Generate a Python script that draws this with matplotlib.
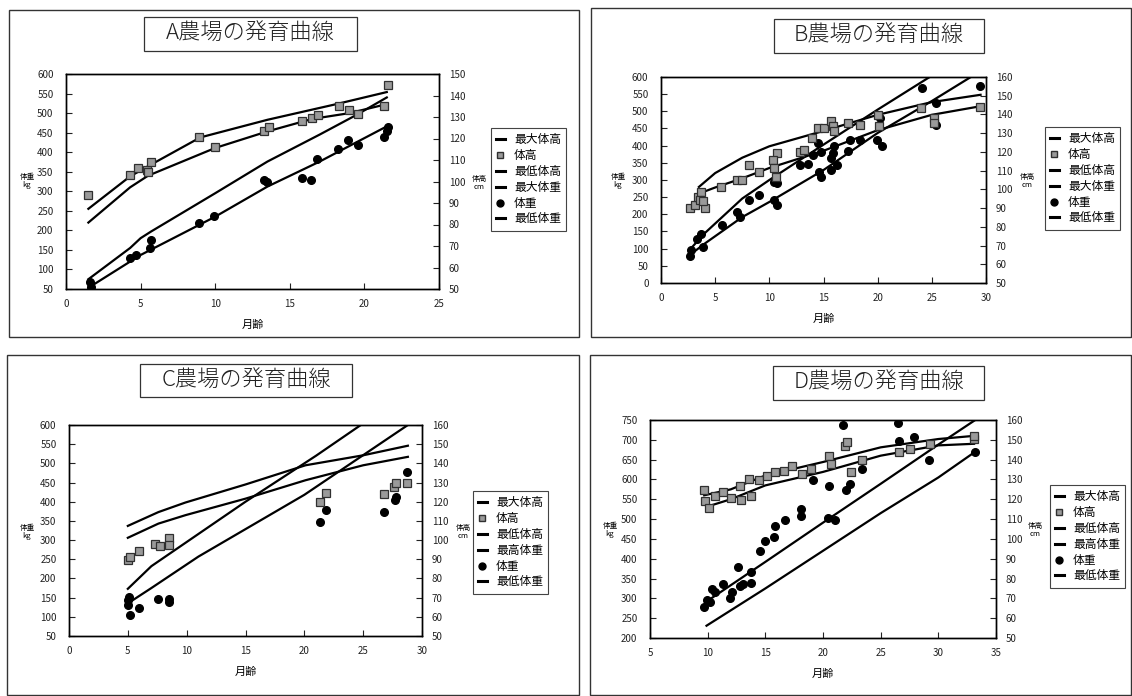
import matplotlib
matplotlib.use('Agg')
import matplotlib.pyplot as plt
from matplotlib.patches import Rectangle
from matplotlib.lines import Line2D

plt.rcParams['font.family'] = ['Noto Sans CJK JP', 'DejaVu Sans']

# ---- A農場 ----
A_wt_x = [1.6, 1.7, 4.3, 4.7, 5.6, 5.7, 8.9, 9.9, 13.3, 13.5, 15.8, 16.4, 16.8, 18.2, 18.9, 19.6, 21.3, 21.5, 21.6]
A_wt = [69, 56, 130, 137, 154, 176, 218, 238, 330, 325, 334, 328, 382, 409, 430, 419, 438, 453, 465]
A_ht_x = [1.5, 4.3, 4.8, 5.4, 5.5, 5.7, 8.9, 10.0, 13.3, 13.6, 15.8, 16.5, 16.9, 18.3, 19.0, 19.6, 21.3, 21.6]
A_ht = [93.6, 103.1, 106.4, 105.5, 104.2, 109.1, 120.9, 116.0, 123.3, 125.5, 128.2, 129.6, 130.9, 134.9, 133.1, 131.3, 134.9, 144.9]
A_max_ht_x = [1.5, 4.3, 5.5, 9, 13.5, 18, 21.5]
A_max_ht = [87.3, 102.4, 107.1, 120.5, 128.7, 135.8, 141.6]
A_min_ht_x = [1.5, 4.3, 5.5, 10, 13.5, 16.5, 19, 21.5]
A_min_ht = [80.9, 97.3, 102.7, 115.6, 123.3, 129.1, 131.8, 136.0]
A_max_wt_x = [1.5, 4.3, 5.0, 5.7, 10, 13.5, 17, 19.5, 21.5]
A_max_wt = [75, 155, 180, 197, 295, 376, 445, 496, 540]
A_min_wt_x = [1.5, 5, 10, 13.5, 17, 21.5]
A_min_wt = [53, 137, 235, 312, 376, 466]

# ---- B農場 ----
B_wt_x = [2.65, 2.8, 3.3, 3.7, 3.9, 5.6, 7.0, 7.3, 8.1, 9.0, 10.4, 10.7, 10.4, 10.7, 12.8, 13.6, 14.0, 14.5,
          14.8, 14.6, 14.8, 15.7, 15.7, 15.9, 16.0, 16.2, 17.3, 17.4, 18.4, 19.9, 20.2, 20.4, 24.1, 25.4, 25.4, 29.4]
B_wt = [80, 95, 129, 144, 105, 170, 207, 193, 241, 256, 295, 290, 241, 227, 344, 346, 373, 407,
        383, 324, 310, 329, 364, 378, 398, 344, 385, 417, 417, 417, 480, 398, 569, 525, 461, 575]
B_ht_x = [2.65, 3.1, 3.4, 3.7, 3.6, 4.05, 3.9, 5.5, 7.0, 7.5, 8.1, 9.0, 10.6, 10.7, 10.3, 10.4,
          12.8, 13.2, 13.9, 14.5, 15.0, 15.7, 15.9, 16.0, 17.3, 18.4, 20.0, 20.1, 24.0, 25.2, 25.2, 29.4]
B_ht = [90.2, 91.6, 96.0, 98.8, 94.2, 90.2, 93.6, 101.3, 105.0, 105.0, 113.1, 109.4, 106.8, 119.3, 115.8, 111.2,
        119.8, 121.1, 127.4, 132.7, 132.7, 136.4, 133.6, 130.9, 135.4, 134.5, 139.8, 133.6, 143.5, 138.2, 135.4, 144.2]
B_max_ht_x = [3.5, 5, 7.5, 10, 15, 20, 25, 29.5]
B_max_ht = [101.3, 108.7, 116.9, 123.0, 131.2, 139.8, 146.6, 150.5]
B_min_ht_x = [3.3, 5, 7.5, 10, 15, 20, 25, 29.5]
B_min_ht = [97.3, 101.0, 105.9, 111.4, 120.6, 131.6, 139.8, 144.4]
B_max_wt_x = [2.6, 4, 7.5, 10, 15, 20, 24.8]
B_max_wt = [95, 144, 246, 300, 403, 505, 600]
B_min_wt_x = [2.6, 4, 7.5, 10, 15, 20, 25, 28.6]
B_min_wt = [80, 114, 192, 236, 329, 437, 530, 600]

# ---- C農場 ----
C_wt_x = [5.0, 5.05, 5.1, 5.2, 5.97, 7.6, 8.5, 8.5, 21.3, 21.8, 26.8, 27.7, 27.8, 28.7]
C_wt = [143, 130, 152, 104, 123, 147, 139, 146, 347, 378, 372, 404, 413, 478]
C_ht_x = [5.05, 5.2, 5.97, 7.3, 7.7, 8.5, 8.5, 21.3, 21.8, 26.8, 27.6, 27.8, 28.7]
C_ht = [89.4, 91.2, 94.2, 98.2, 97.0, 101.2, 97.4, 120.0, 124.8, 124.2, 127.8, 129.8, 129.8]
C_max_ht_x = [5.0, 7.6, 9.9, 15, 20.1, 25, 28.8]
C_max_ht = [107.4, 114.6, 119.6, 129.0, 139.0, 144.2, 149.2]
C_min_ht_x = [5.0, 7.6, 9.9, 15, 20.1, 25, 28.8]
C_min_ht = [101.2, 108.6, 113.0, 121.6, 131.2, 139.0, 143.4]
C_max_wt_x = [5.0, 7, 15, 21, 24.8]
C_max_wt = [173, 232, 400, 520, 600]
C_min_wt_x = [5.0, 7, 11, 20, 28.8]
C_min_wt = [135, 175, 257, 418, 600]

# ---- D農場 ----
D_wt_x = [9.66, 9.9, 10.2, 10.4, 10.65, 11.3, 11.9, 12.1, 12.6, 12.8, 13.05, 13.8, 13.8, 14.5, 15.0, 15.75, 15.8,
          16.7, 18.1, 18.1, 19.1, 20.5, 20.45, 21.0, 21.7, 22.0, 22.3, 23.4, 26.5, 26.6, 27.9, 29.2, 33.2]
D_wt = [278, 295, 292, 323, 315, 336, 300, 317, 380, 331, 337, 367, 338, 419, 445, 455, 482,
        497, 507, 526, 598, 583, 504, 497, 738, 573, 588, 627, 742, 696, 708, 650, 669]
D_ht_x = [9.66, 9.8, 10.1, 10.65, 11.35, 12.06, 12.77, 12.9, 13.6, 13.76, 14.46, 15.17, 15.88, 16.58,
          17.29, 18.14, 18.98, 20.5, 20.7, 21.95, 22.1, 22.4, 23.4, 26.6, 27.5, 29.3, 33.1, 33.1]
D_ht = [124.5, 119.1, 115.8, 121.4, 123.6, 120.8, 126.5, 119.4, 130.4, 121.4, 129.5, 131.5, 133.7, 134.5,
        137.0, 132.9, 135.4, 142.0, 137.9, 147.1, 148.8, 133.7, 139.6, 143.8, 145.4, 147.9, 150.4, 152.1]
D_max_ht_x = [9.7, 12, 15, 20, 25, 30, 33.1]
D_max_ht = [122, 125, 132, 138.8, 146.2, 150.4, 152]
D_min_ht_x = [9.9, 12, 15, 20, 25, 30, 33.1]
D_min_ht = [116.2, 120, 127, 133.8, 142, 147.2, 148]
D_max_wt_x = [9.8, 15, 20, 25, 30, 33.2]
D_max_wt = [290, 392, 491, 589, 688, 750]
D_min_wt_x = [9.9, 15, 20, 25, 30, 33.2]
D_min_wt = [231, 325, 420, 515, 605, 670]

labels_ab = ['最大体高', '体高', '最低体高', '最大体重', '体重', '最低体重']
labels_cd = ['最大体高', '体高', '最低体高', '最高体重', '体重', '最低体重']

W, H = 1132, 696
fig = plt.figure(figsize=(W / 100, H / 100), dpi=100)


def fx(x):
    return x / W


def fy(y):
    return 1 - y / H


def box(x0, y0, x1, y1, lw=1.0, color='#333333'):
    fig.add_artist(Rectangle((fx(x0), fy(y1)), fx(x1 - x0), (y1 - y0) / H,
                             transform=fig.transFigure, fill=False, lw=lw, edgecolor=color))


def panel(rect, xlim, xticks, ylim, yticks, y2lim, y2ticks, d, labels,
          title, title_box, leg_xy, ylab_xy, y2lab_xy):
    x0, y0, x1, y1 = rect
    ax = fig.add_axes([fx(x0), fy(y1), fx(x1 - x0), (y1 - y0) / H])
    ax2 = ax.twinx()
    lk = dict(color='black', lw=1.6, zorder=2)
    ax2.plot(d['max_ht_x'], d['max_ht'], **lk)
    ax2.plot(d['min_ht_x'], d['min_ht'], **lk)
    ax.plot(d['max_wt_x'], d['max_wt'], **lk)
    ax.plot(d['min_wt_x'], d['min_wt'], **lk)
    ax2.plot(d['ht_x'], d['ht'], 's', ms=5.5, mfc='#9a9a9a', mec='#303030', mew=0.9, zorder=3)
    ax.plot(d['wt_x'], d['wt'], 'o', ms=5.5, color='black', zorder=3)
    ax.set_xlim(*xlim)
    ax.set_xticks(xticks)
    ax.set_ylim(*ylim)
    ax.set_yticks(yticks)
    ax2.set_ylim(*y2lim)
    ax2.set_yticks(y2ticks)
    for a in (ax, ax2):
        a.tick_params(direction='in', length=4, width=0.8, labelsize=7, colors='#222222')
        for s in a.spines.values():
            s.set_linewidth(1.0)
    ax.tick_params(axis='y', pad=9)
    ax.tick_params(axis='x', pad=7)
    ax2.tick_params(axis='y', pad=7)
    ax.set_xlabel('月齢', fontsize=8, labelpad=8)

    # title box
    tx0, ty0, tx1, ty1 = title_box
    box(tx0, ty0, tx1, ty1, lw=0.9)
    fig.text(fx((tx0 + tx1) / 2), fy((ty0 + ty1) / 2), title, fontsize=16,
             ha='center', va='center', color='#222222', fontweight='light')

    # axis labels
    fig.text(fx(ylab_xy[0]), fy(ylab_xy[1]), '体重\nkg', fontsize=5.5, ha='center', va='center', linespacing=1.1)
    fig.text(fx(y2lab_xy[0]), fy(y2lab_xy[1]), '体高\ncm', fontsize=5.5, ha='center', va='center', linespacing=1.1)

    handles = [Line2D([], [], color='black', lw=2.2),
               Line2D([], [], ls='none', marker='s', ms=5, mfc='#9a9a9a', mec='#303030'),
               Line2D([], [], color='black', lw=2.2),
               Line2D([], [], color='black', lw=2.2),
               Line2D([], [], ls='none', marker='o', ms=5, color='black'),
               Line2D([], [], color='black', lw=2.2)]
    leg = fig.legend(handles, labels, loc='upper left', bbox_to_anchor=(fx(leg_xy[0]), fy(leg_xy[1])),
                     fontsize=8.5, handlelength=0.7, handletextpad=0.8, labelspacing=0.24,
                     borderpad=0.45, borderaxespad=0, frameon=True, fancybox=False,
                     edgecolor='#444444', framealpha=1)
    leg.get_frame().set_linewidth(0.8)
    return ax


dA = dict(wt_x=A_wt_x, wt=A_wt, ht_x=A_ht_x, ht=A_ht, max_ht_x=A_max_ht_x, max_ht=A_max_ht,
          min_ht_x=A_min_ht_x, min_ht=A_min_ht, max_wt_x=A_max_wt_x, max_wt=A_max_wt,
          min_wt_x=A_min_wt_x, min_wt=A_min_wt)
dB = dict(wt_x=B_wt_x, wt=B_wt, ht_x=B_ht_x, ht=B_ht, max_ht_x=B_max_ht_x, max_ht=B_max_ht,
          min_ht_x=B_min_ht_x, min_ht=B_min_ht, max_wt_x=B_max_wt_x, max_wt=B_max_wt,
          min_wt_x=B_min_wt_x, min_wt=B_min_wt)
dC = dict(wt_x=C_wt_x, wt=C_wt, ht_x=C_ht_x, ht=C_ht, max_ht_x=C_max_ht_x, max_ht=C_max_ht,
          min_ht_x=C_min_ht_x, min_ht=C_min_ht, max_wt_x=C_max_wt_x, max_wt=C_max_wt,
          min_wt_x=C_min_wt_x, min_wt=C_min_wt)
dD = dict(wt_x=D_wt_x, wt=D_wt, ht_x=D_ht_x, ht=D_ht, max_ht_x=D_max_ht_x, max_ht=D_max_ht,
          min_ht_x=D_min_ht_x, min_ht=D_min_ht, max_wt_x=D_max_wt_x, max_wt=D_max_wt,
          min_wt_x=D_min_wt_x, min_wt=D_min_wt)

# panel frames
box(9, 10, 579, 337)
box(591, 8, 1131, 337)
box(7, 355, 579, 695)
box(590, 355, 1131, 695)

panel((66, 74, 439, 289), (0, 25), range(0, 26, 5), (50, 600), range(50, 601, 50),
      (50, 150), range(50, 151, 10), dA, labels_ab,
      'A農場の発育曲線', (144, 17, 357, 51), (491, 128), (27, 181), (479, 183))
panel((661, 77, 986, 283), (0, 30), range(0, 31, 5), (0, 600), range(0, 601, 50),
      (50, 160), range(50, 161, 10), dB, labels_ab,
      'B農場の発育曲線', (774, 19, 984, 53), (1045, 127), (618, 181), (1027, 181))
panel((69, 425, 422, 636), (0, 30), range(0, 31, 5), (50, 600), range(50, 601, 50),
      (50, 160), range(50, 161, 10), dC, labels_cd,
      'C農場の発育曲線', (140, 364, 352, 397), (473, 491), (27, 532), (463, 532))
panel((650, 420, 996, 638), (5, 35), range(5, 36, 5), (200, 750), range(200, 751, 50),
      (50, 160), range(50, 161, 10), dD, labels_cd,
      'D農場の発育曲線', (773, 366, 984, 400), (1050, 485), (610, 530), (1035, 530))

fig.savefig('out.png', dpi=100, facecolor='white')
